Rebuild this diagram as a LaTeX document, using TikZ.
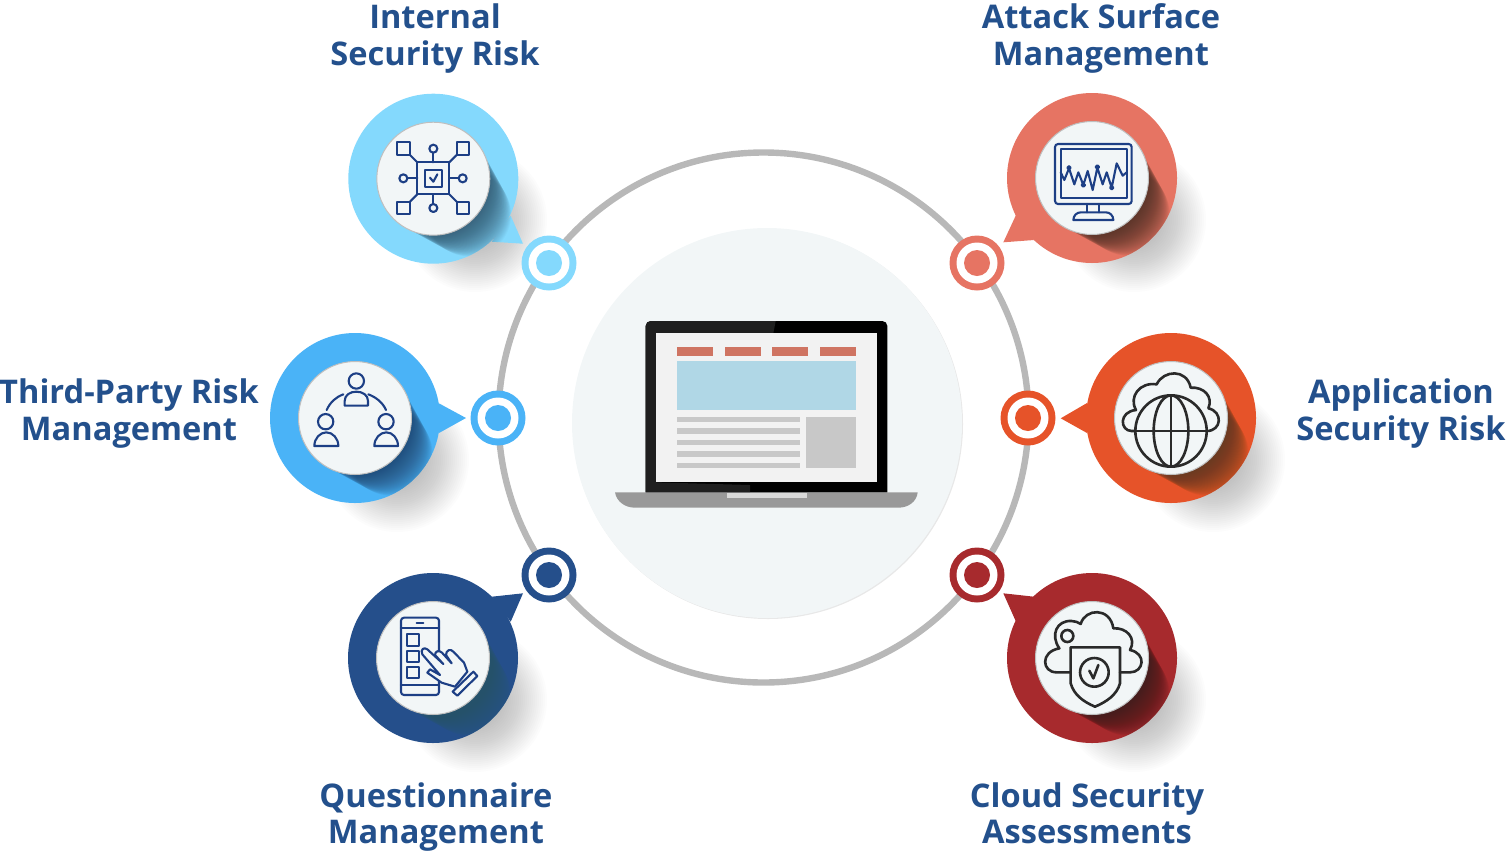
\documentclass[tikz,border=0pt]{standalone}
\usepackage{fontspec}
\setmainfont{Open Sans}
\definecolor{lightblue}{HTML}{84D9FD}
\definecolor{coral}{HTML}{E67463}
\definecolor{skyblue}{HTML}{4AB3F7}
\definecolor{orangered}{HTML}{E65329}
\definecolor{navy}{HTML}{254F8B}
\definecolor{darkred}{HTML}{A72A2D}
\definecolor{labelblue}{HTML}{23508C}
\definecolor{iconblue}{HTML}{1D3F85}
\definecolor{icondark}{HTML}{2A2A2A}
\definecolor{innerfill}{HTML}{F2F6F7}
\definecolor{shLight}{HTML}{2A4A60}
\definecolor{shCoral}{HTML}{3A2A20}
\definecolor{shSky}{HTML}{1F3A60}
\definecolor{shOrange}{HTML}{4A3A20}
\definecolor{shNavy}{HTML}{2F6A6A}
\definecolor{shRed}{HTML}{301C1C}
\definecolor{barred}{HTML}{CF7462}
\definecolor{barblue}{HTML}{B0D7E6}
\definecolor{bargray}{HTML}{C8C8C8}
\tikzset{
  px/.style={x=0.5pt,y=-0.5pt},
  zoomgrid/.style={x=0.16667pt,y=-0.16667pt},
  labeltext/.style={font=\bfseries\fontsize{16.3pt}{18.2pt}\selectfont,text=labelblue,align=center,inner sep=0pt},
  bubbledisc/.style={circle,minimum size=85pt,inner sep=0pt,outer sep=0pt},
  innerdisc/.style={circle,minimum size=56.5pt,inner sep=0pt,fill=innerfill,draw=black!25,line width=0.5pt},
  bluestroke/.style={draw=iconblue,line width=1.05pt,line join=round,line cap=round},
  darkstroke/.style={draw=icondark,line width=1.3pt,line join=round,line cap=round},
}
\newcommand{\softshadow}[2]{%
  \foreach \r in {16,18,...,72}
    \fill[black,fill opacity=0.0115] ({#1+42},{#2+42}) circle[radius=\r];
}
\newcommand{\speechbubble}[6]{%
  \fill[#4] #5;
  \node[bubbledisc,fill=#4] (#1) at (#2,#3) {};
  \begin{scope}
    \clip (#2,#3) circle[radius=85] #5 #5;
    \foreach \i in {1,...,34}
      \fill[#6,fill opacity=0.04] ({#2+\i*1.06},{#3+\i*1.06}) circle[radius={56-\i*0.42}];
  \end{scope}
  \node[innerdisc] (#1inner) at (#2,#3) {};
}
\newcommand{\targetmark}[4]{%
  \node[circle,minimum size=27.5pt,inner sep=0pt,fill=#4] (#1) at (#2,#3) {};
  \node[circle,minimum size=20.5pt,inner sep=0pt,fill=white] (#1w) at (#2,#3) {};
  \node[circle,minimum size=13pt,inner sep=0pt,fill=#4] (#1c) at (#2,#3) {};
}
\begin{document}
\begin{tikzpicture}[px]
\useasboundingbox (0,0) rectangle (1507,852);
% soft outer shadows
\softshadow{433}{178}
\softshadow{1092}{178}
\softshadow{355}{418}
\softshadow{1171}{418}
\softshadow{433}{658}
\softshadow{1092}{658}
% big ring and centre disc
\draw[black!28,line width=3.2pt] (763.5,417.5) circle[radius=265];
\fill[black!9] (768,424) circle[radius=195];
\fill[innerfill] (767,423) circle[radius=195];
% laptop
\begin{scope}[shift={(600,310)},zoomgrid]
  \fill[black] (137,548) -- (137,100) [rounded corners=2.5pt] -- (137,33) -- (862,33) -- (862,100) [sharp corners] -- (862,548) -- cycle;
  \fill[black!88] (137,548) -- (137,100) [rounded corners=2.5pt] -- (137,33) [sharp corners] -- (527,33) -- (520,70) -- (169,70) -- (169,517) -- (450,525) -- (450,548) -- cycle;
  \fill[black!5] (169,70) rectangle (830,517);
  \fill[barred] (232,111) rectangle (339,138);
  \fill[barred] (374,111) rectangle (482,138);
  \fill[barred] (517,111) rectangle (624,138);
  \fill[barred] (660,111) rectangle (768,138);
  \fill[barblue] (232,153) rectangle (768,300);
  \fill[bargray] (232,320) rectangle (600,337);
  \fill[bargray] (232,354) rectangle (600,371);
  \fill[bargray] (232,389) rectangle (600,406);
  \fill[bargray] (232,423) rectangle (600,440);
  \fill[bargray] (232,458) rectangle (600,475);
  \fill[bargray] (617,320) rectangle (768,474);
  \fill[black!40] (45,547) -- (953,547) .. controls (950,575) and (925,593) .. (895,593) -- (105,593) .. controls (75,593) and (50,575) .. (45,547) -- cycle;
  \fill[black!15] (380,548) rectangle (620,563);
\end{scope}
% bubbles
\speechbubble{bubbleInternal}{433.3}{178.7}{lightblue}{(523,243.7) -- (510.7,215.7) -- (491.7,241.7) -- cycle}{shLight}
\speechbubble{bubbleAttack}{1092}{178}{coral}{(1003.3,242.3) -- (1016,215) -- (1034,240) -- cycle}{shCoral}
\speechbubble{bubbleThird}{355}{418}{skyblue}{(466,418) -- (438.3,403) -- (439,433) -- cycle}{shSky}
\speechbubble{bubbleApp}{1171}{418}{orangered}{(1060.7,418.3) -- (1087,403) -- (1087,433) -- cycle}{shOrange}
\speechbubble{bubbleQuest}{433}{658}{navy}{(523,593.3) -- (491.7,596.7) -- (510.7,621.7) -- cycle}{shNavy}
\speechbubble{bubbleCloud}{1092}{658}{darkred}{(1003.3,593.3) -- (1034,596.7) -- (1016,621.7) -- cycle}{shRed}
% ring targets
\targetmark{markInternal}{549}{263}{lightblue}
\targetmark{markAttack}{977}{263}{coral}
\targetmark{markThird}{498}{418}{skyblue}
\targetmark{markApp}{1028}{418}{orangered}
\targetmark{markQuest}{549}{575}{navy}
\targetmark{markCloud}{977}{575}{darkred}
% icon: chip network
\begin{scope}[shift={(340,85)},zoomgrid,bluestroke]
  \draw (232,232) rectangle (328,328);
  \draw (255,255) rectangle (305,305);
  \draw (270,278) -- (280,290) -- (292,268);
  \draw (172,172) rectangle (210,210);
  \draw (350,172) rectangle (388,210);
  \draw (172,350) rectangle (210,388);
  \draw (350,350) rectangle (388,388);
  \draw (210,210) -- (232,232) (350,210) -- (328,232) (210,350) -- (232,328) (350,350) -- (328,328);
  \draw (280,191) circle[radius=12] (190,280) circle[radius=12] (368,280) circle[radius=12] (280,369) circle[radius=12];
  \draw (280,203) -- (280,232) (202,280) -- (232,280) (328,280) -- (356,280) (280,328) -- (280,357);
\end{scope}
% icon: monitor
\begin{scope}[shift={(940,85)},zoomgrid,bluestroke]
  \draw[rounded corners=1.5pt] (345,177) rectangle (575,357);
  \draw (362,192) rectangle (560,340);
  \draw (440,357) -- (440,382) (478,357) -- (478,382);
  \draw (400,405) .. controls (400,392) and (410,382) .. (422,382) -- (498,382) .. controls (510,382) and (520,392) .. (520,405) -- cycle;
  \draw (362,262) -- (373,285) -- (387,250) -- (403,298) -- (415,262) -- (430,300) -- (443,258) -- (458,315) -- (472,248) -- (488,298) -- (500,262) -- (515,308) -- (530,235) -- (548,272) -- (560,262);
  \draw (387,248) circle[radius=5] (430,300) circle[radius=5] (472,246) circle[radius=5] (515,308) circle[radius=5];
\end{scope}
% icon: three people
\begin{scope}[shift={(260,325)},zoomgrid,bluestroke]
  \draw (289,168) circle[radius=23] (197,290) circle[radius=23] (378,290) circle[radius=23];
  \draw (254,242) -- (254,228) .. controls (254,210) and (270,200) .. (289,200) .. controls (308,200) and (324,210) .. (324,228) -- (324,242) -- cycle;
  \draw (163,363) .. controls (163,340) and (180,322) .. (199,322) .. controls (218,322) and (235,340) .. (235,363) -- cycle;
  \draw (343,363) .. controls (343,340) and (360,322) .. (379,322) .. controls (398,322) and (414,340) .. (414,363) -- cycle;
  \draw (200,255) .. controls (210,232) and (228,216) .. (250,208);
  \draw (325,208) .. controls (347,216) and (368,232) .. (378,255);
\end{scope}
% icon: cloud and globe
\begin{scope}[shift={(1000,325)},zoomgrid,darkstroke]
  \draw (513,318) circle[radius=107];
  \draw (513,318) ellipse[x radius=52,y radius=107];
  \draw (513,211) -- (513,425);
  \draw (406,318) -- (620,318);
  \draw (406,318) -- (395,318) .. controls (360,318) and (355,260) .. (408,255) .. controls (385,215) and (420,170) .. (470,178) .. controls (490,135) and (560,130) .. (572,188) .. controls (612,185) and (640,215) .. (625,250) .. controls (670,260) and (665,318) .. (620,318);
\end{scope}
% icon: phone and hand
\begin{scope}[shift={(340,540)},zoomgrid,bluestroke]
  \draw[rounded corners=1.5pt] (183,233) rectangle (297,465);
  \draw (183,265) -- (297,265) (183,435) -- (297,435) (230,248) -- (250,248);
  \draw (200,283) rectangle (236,318);
  \draw (200,332) rectangle (236,366);
  \draw (200,380) rectangle (236,415);
  \filldraw[fill=innerfill] (262,398) -- (270,388) -- (300,405) -- (247,343) .. controls (240,328) and (252,320) .. (262,328) -- (310,372) -- (285,345) .. controls (285,332) and (298,330) .. (306,338) -- (335,370) -- (318,345) .. controls (318,330) and (332,325) .. (340,335) -- (372,368) -- (382,395) -- (345,440) -- (305,428) -- cycle;
  \filldraw[fill=innerfill] (338,455) -- (400,395) -- (412,408) -- (352,467) -- cycle;
\end{scope}
% icon: cloud and shield
\begin{scope}[shift={(940,540)},zoomgrid,darkstroke]
  \draw (392,322) -- (540,322) -- (540,430) .. controls (530,465) and (500,485) .. (465,500) .. controls (430,485) and (402,465) .. (392,430) -- cycle;
  \draw (463,397) circle[radius=43];
  \draw (448,392) -- (460,415) -- (475,375);
  \draw (382,288) circle[radius=18];
  \draw (390,397) -- (350,397) .. controls (305,397) and (300,335) .. (358,325) .. controls (330,285) and (350,240) .. (395,243) .. controls (405,243) and (415,247) .. (422,252) .. controls (435,205) and (510,200) .. (520,265) .. controls (560,262) and (590,295) .. (570,330) .. controls (620,340) and (612,397) .. (570,397) -- (540,397);
\end{scope}
% labels
\node[labeltext] (labelInternal) at (435,38.5) {Internal\\Security Risk};
\node[labeltext] (labelAttack) at (1101,38.5) {Attack Surface\\Management};
\node[labeltext] (labelThird) at (129,413.5) {Third-Party Risk\\Management};
\node[labeltext] (labelApp) at (1401,413.5) {Application\\Security Risk};
\node[labeltext] (labelQuest) at (436,817) {Questionnaire\\Management};
\node[labeltext] (labelCloud) at (1087,813) {Cloud Security\\Assessments};
\end{tikzpicture}
\end{document}
